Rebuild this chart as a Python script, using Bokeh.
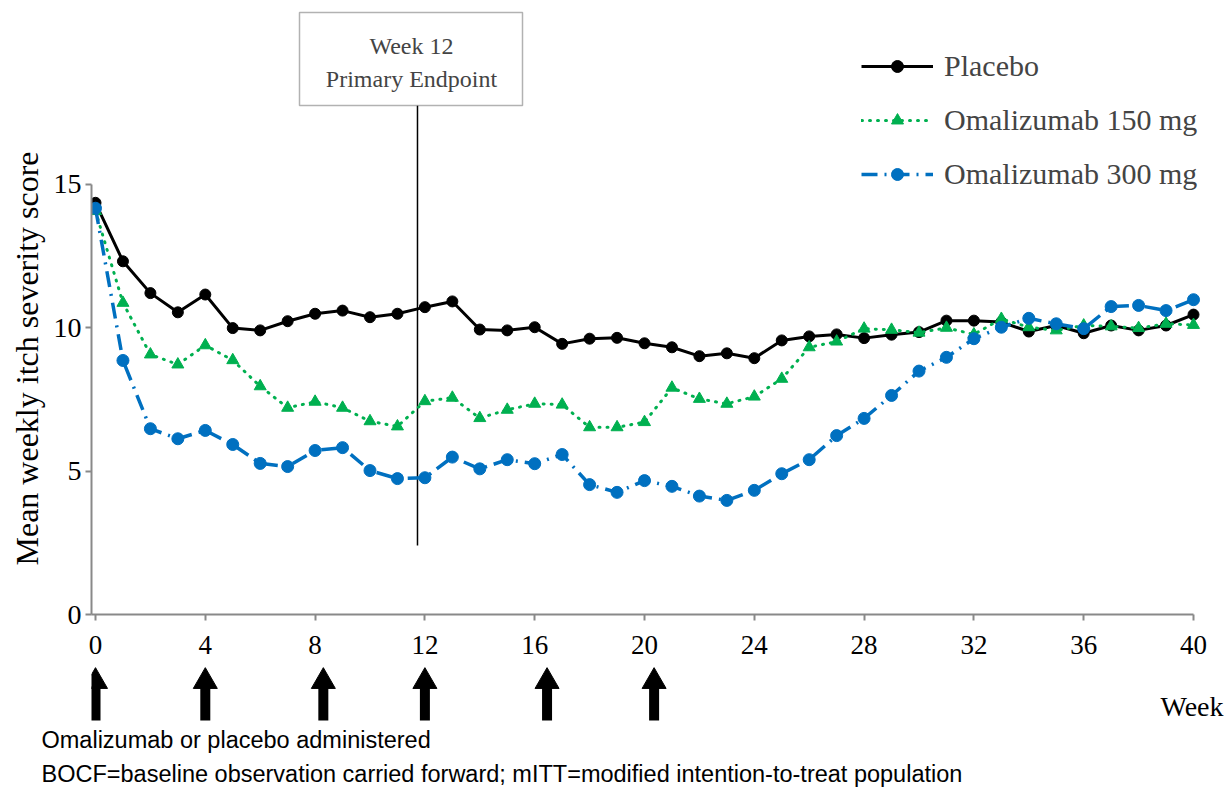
from bokeh.plotting import figure
from bokeh.layouts import column
from bokeh.models import (Range1d, FixedTicker, Label, BoxAnnotation, Legend,
                          LegendItem, Title)
from bokeh.core.properties import value
from bokeh.embed import file_html
from bokeh.resources import INLINE

# ---------------- data ----------------
weeks = list(range(0, 41))
placebo = [14.36, 12.32, 11.21, 10.54, 11.16, 9.99, 9.91, 10.23, 10.49, 10.60,
           10.37, 10.49, 10.72, 10.92, 9.94, 9.91, 10.02, 9.44, 9.62, 9.65,
           9.46, 9.32, 9.01, 9.11, 8.94, 9.56, 9.70, 9.77, 9.64, 9.76,
           9.85, 10.25, 10.25, 10.20, 9.87, 10.08, 9.81, 10.08, 9.91, 10.08, 10.46]
oma150 = [14.07, 10.87, 9.07, 8.72, 9.39, 8.87, 7.96, 7.21, 7.42, 7.21,
          6.74, 6.56, 7.44, 7.56, 6.85, 7.14, 7.35, 7.32, 6.53, 6.53,
          6.71, 7.91, 7.52, 7.35, 7.60, 8.22, 9.32, 9.52, 9.97, 9.93,
          9.83, 10.00, 9.77, 10.31, 10.02, 9.91, 10.08, 10.05, 9.99, 10.14, 10.10]
oma300 = [14.17, 8.86, 6.48, 6.13, 6.42, 5.93, 5.27, 5.16, 5.72, 5.82,
          5.02, 4.74, 4.77, 5.49, 5.08, 5.40, 5.26, 5.58, 4.53, 4.26,
          4.67, 4.47, 4.13, 3.98, 4.33, 4.91, 5.40, 6.24, 6.84, 7.64,
          8.49, 8.97, 9.62, 10.02, 10.33, 10.14, 9.97, 10.74, 10.78, 10.60, 10.98]
series_names = ["Placebo", "Omalizumab 150 mg", "Omalizumab 300 mg"]
dose_weeks = [0, 4, 8.3, 12, 16.45, 20.35]
x_ticks = list(range(0, 41, 4))
y_ticks = [0, 5, 10, 15]
endpoint_week = 11.73
y_title = "Mean weekly itch severity score"
x_title = "Week"
box_lines = ["Week 12", "Primary Endpoint"]
footnotes = ["Omalizumab or placebo administered",
             "BOCF=baseline observation carried forward; mITT=modified intention-to-treat population"]

# ---------------- layout helpers (pixel -> data) ----------------
W = 1227
X0, PXW = 94.0, 27.45      # pixel of week 0, pixels per week
Y0, PXH = 614.0, 28.67     # pixel of score 0, pixels per unit
def dx(px):
    return (px - X0) / PXW
def dy(py):
    return (Y0 - py) / PXH

SERIF = "Liberation Serif"
SANS = "Liberation Sans"
AXIS_GRAY = "#898989"

FL, FT = 90, 2
FW, FH = W - FL, 612
TOP_H = FT + FH + 46
QFH = 60

p = figure(frame_width=FW, frame_height=FH,
           min_border_left=FL, min_border_right=0,
           min_border_top=FT, min_border_bottom=TOP_H - FT - FH,
           x_range=Range1d(dx(FL), dx(FL + FW)), y_range=Range1d(0, dy(FT)),
           output_backend="svg", toolbar_location=None)
p.grid.visible = False
p.outline_line_color = None

for ax in (p.xaxis[0], p.yaxis[0]):
    ax.axis_line_color = AXIS_GRAY
    ax.axis_line_width = 2
    ax.major_tick_line_color = AXIS_GRAY
    ax.major_tick_line_width = 2
    ax.major_tick_out = 6
    ax.major_tick_in = 0
    ax.minor_tick_line_color = None
    ax.major_label_text_font = SERIF
    ax.major_label_text_color = "black"
p.xaxis.ticker = FixedTicker(ticks=x_ticks)
p.yaxis.ticker = FixedTicker(ticks=y_ticks)
p.xaxis.bounds = (dx(FL), 40)
p.yaxis.bounds = (0, 15)
p.xaxis.major_label_text_font_size = "27px"
p.yaxis.major_label_text_font_size = "28px"
p.xaxis.major_label_standoff = 15
p.yaxis.major_label_standoff = 4

p.add_layout(Title(text=y_title, align="left", offset=Y0 - 565,
                   text_font=SERIF, text_font_size="32px", text_font_style="normal",
                   text_color="black", standoff=12), "left")

# week 12 marker line
p.segment(x0=[endpoint_week], y0=[dy(545)], x1=[endpoint_week], y1=[dy(105)],
          line_color="black", line_width=1.5)

# series
r1 = p.line(weeks, placebo, line_color="black", line_width=3)
s1 = p.scatter(weeks, placebo, marker="circle", size=11, color="black")
r2 = p.line(weeks, oma150, line_color="#00B050", line_width=3,
            line_dash="1 7", line_cap="round")
s2 = p.scatter(weeks, oma150, marker="triangle", size=12, color="#00B050")
r3 = p.line(weeks, oma300, line_color="#0070C0", line_width=3.5,
            line_dash="16 7 2 7")
s3 = p.scatter(weeks, oma300, marker="circle", size=12, color="#0070C0")

legend = Legend(items=[LegendItem(label=series_names[0], renderers=[r1, s1]),
                       LegendItem(label=series_names[1], renderers=[r2, s2]),
                       LegendItem(label=series_names[2], renderers=[r3, s3])],
                location=(860 - FL, 423), orientation="vertical",
                glyph_width=72, glyph_height=30, label_height=30,
                spacing=20, padding=0, margin=0, label_standoff=11,
                label_text_font=SERIF, label_text_font_size="30px",
                border_line_color=None, background_fill_alpha=0)
p.add_layout(legend)

# endpoint box
p.add_layout(BoxAnnotation(left=dx(298), right=dx(521), top=dy(12), bottom=dy(105),
                           fill_color="white", fill_alpha=1.0,
                           line_color="black", line_width=1.5))
p.add_layout(Label(x=dx(410), y=dy(45), text=box_lines[0], text_align="center",
                   text_baseline="middle", text_font=SERIF, text_font_size="24px"))
p.add_layout(Label(x=dx(410), y=dy(78), text=box_lines[1], text_align="center",
                   text_baseline="middle", text_font=SERIF, text_font_size="24px"))

# ---------------- bottom strip: dosing arrows, Week, footnotes ----------------
q = figure(frame_width=FW, frame_height=QFH,
           min_border_left=FL, min_border_right=0, min_border_top=0, min_border_bottom=0,
           x_range=p.x_range, y_range=Range1d(TOP_H + QFH, TOP_H),
           x_axis_type=None, y_axis_type=None,
           output_backend="svg", toolbar_location=None)
q.grid.visible = False
q.outline_line_color = None

n = len(dose_weeks)
q.segment(x0=dose_weeks, y0=[721] * n, x1=dose_weeks, y1=[686] * n,
          line_color="black", line_width=10)
q.scatter(x=dose_weeks, y=[681] * n, marker="triangle", size=24, color="black")
q.text(x=[dx(1222)], y=[706], text=[x_title], text_align="right",
       text_baseline="middle", text_font=value(SERIF), text_font_size="28px",
       text_color="black")
for note, so in zip(footnotes, [8, 5]):
    q.add_layout(Title(text=note, align="left", offset=40 - FL, text_font=SANS,
                       text_font_size="23.5px", text_font_style="normal",
                       text_color="black", standoff=so, text_line_height=1.0),
                 "below")

open("out.html", "w").write(file_html(column(p, q, spacing=0), INLINE))
